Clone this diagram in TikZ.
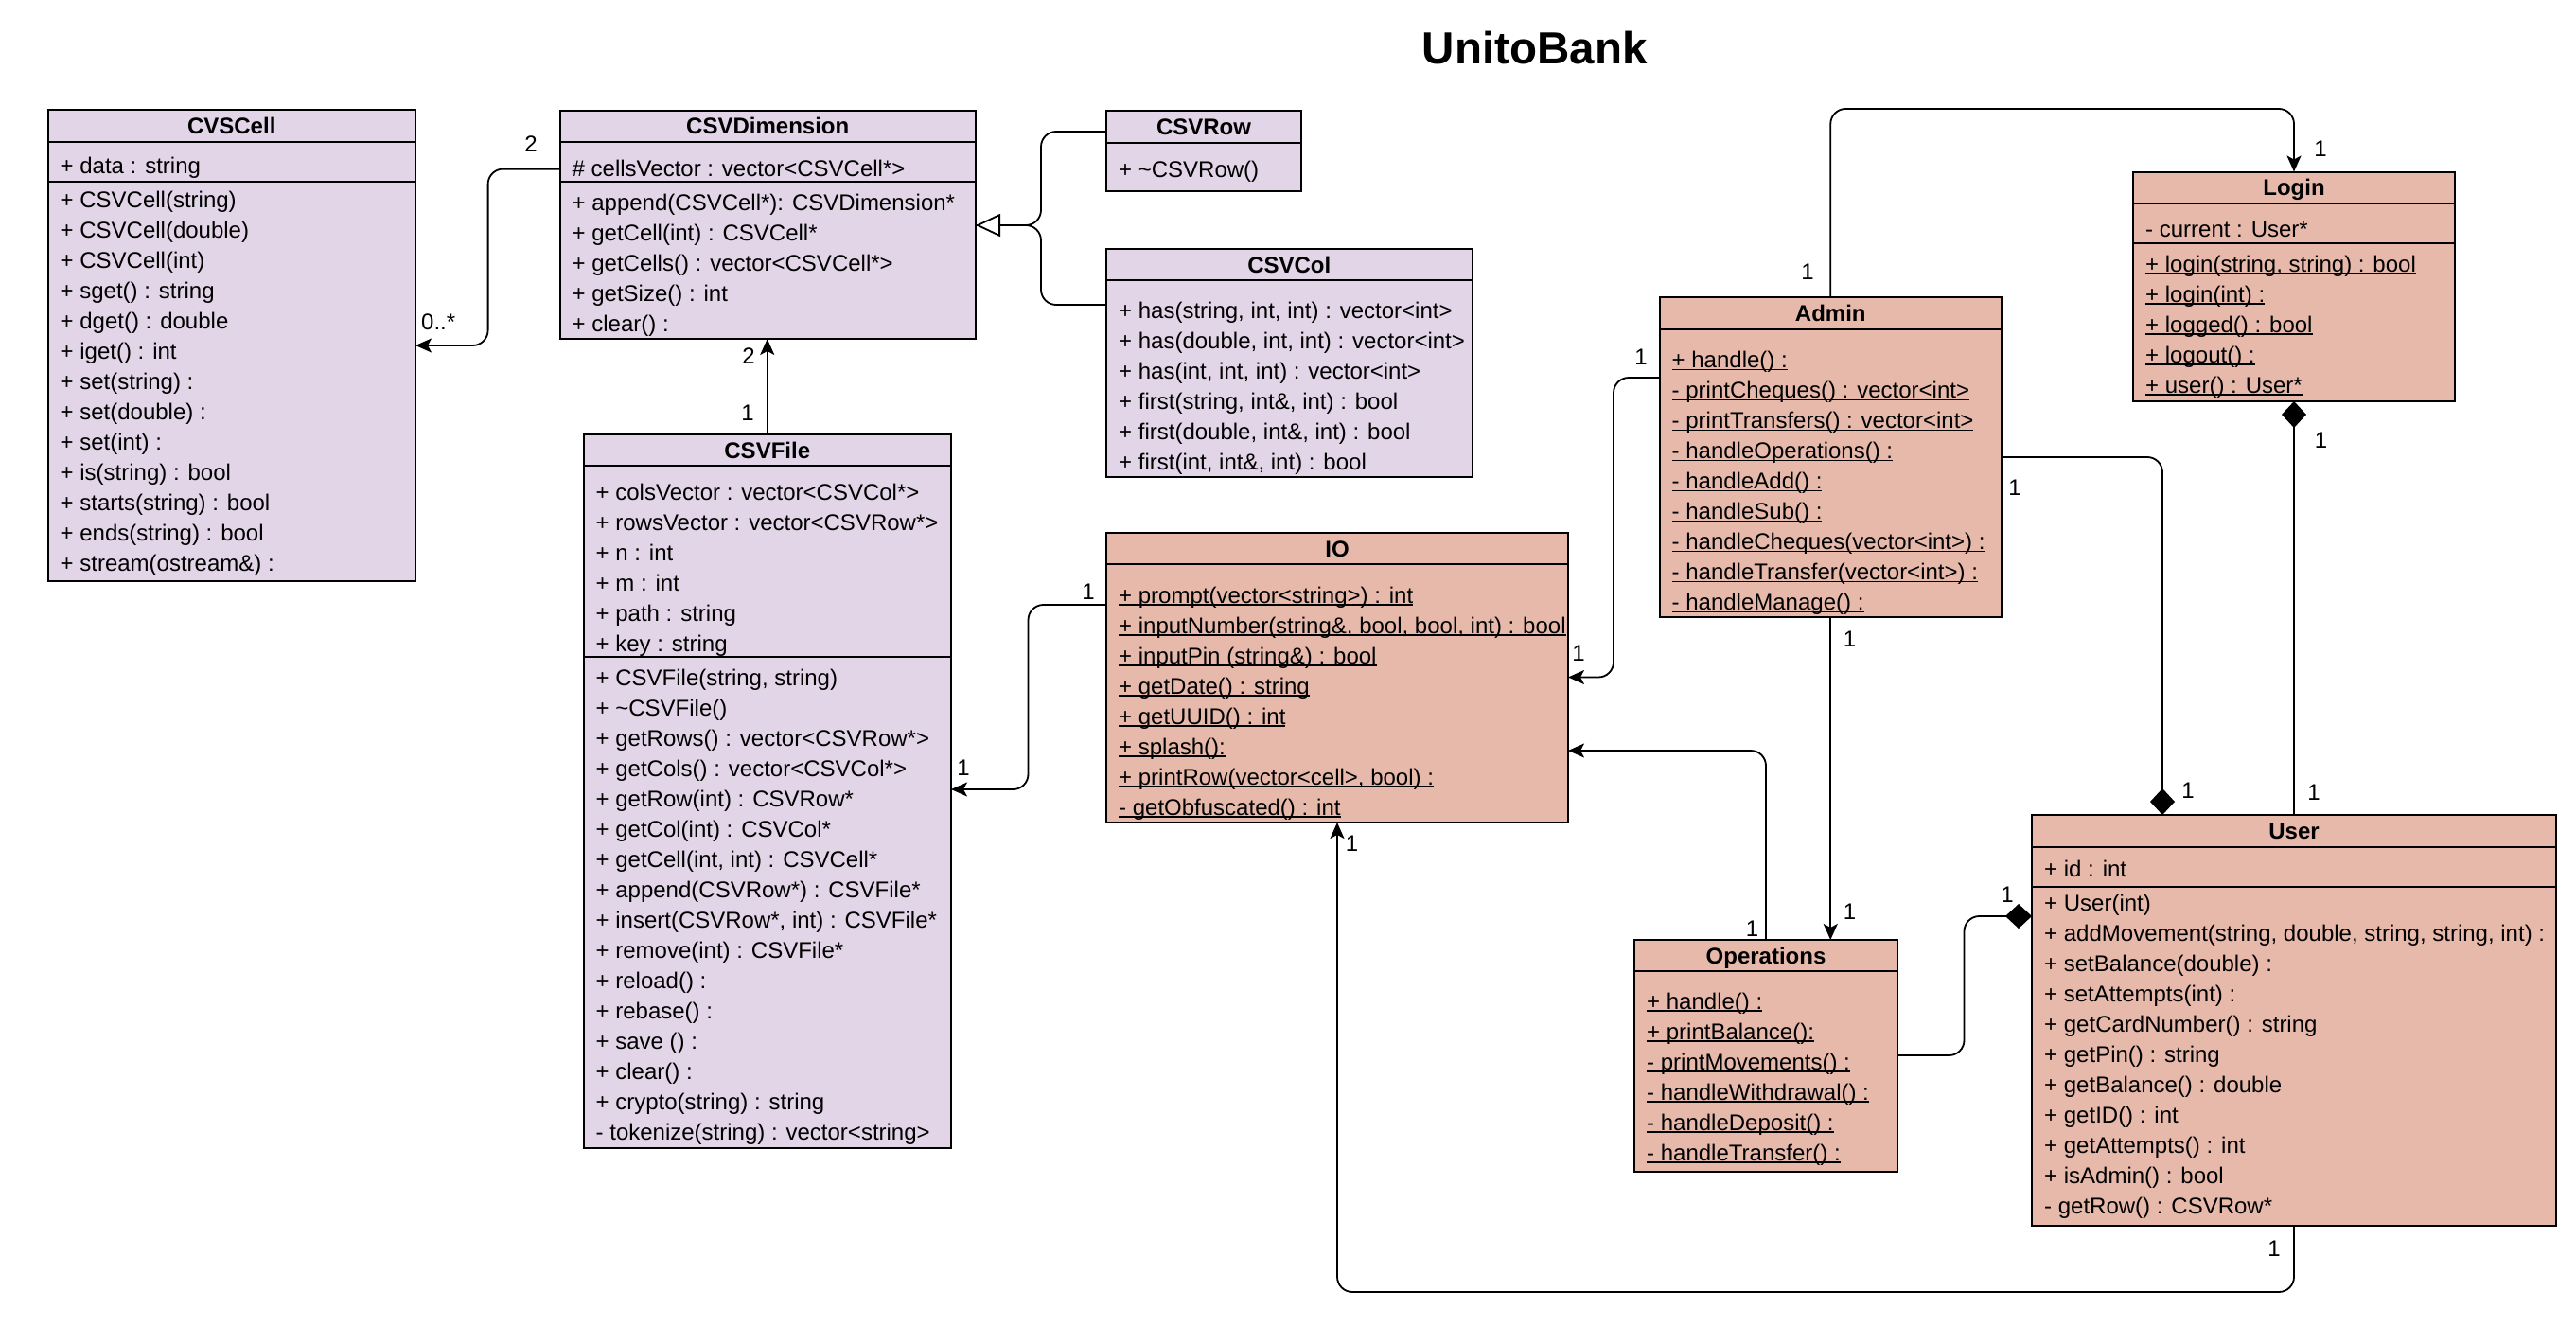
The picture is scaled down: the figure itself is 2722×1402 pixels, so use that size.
\documentclass[tikz,border=0pt]{standalone}
\usepackage{fontspec}
\setmainfont{Liberation Sans}
\usetikzlibrary{arrows.meta}
\definecolor{lav}{HTML}{E1D5E7}
\definecolor{sal}{HTML}{E6B9AB}
\newsavebox\ulbox
\newcommand\ulx[1]{\sbox\ulbox{#1}\rlap{\rule[-2.5pt]{\wd\ulbox}{1.5pt}}\usebox\ulbox}
\newcommand\rowsat[4]{\foreach \rowtext [count=\ri from 0] in {#4}{\node[rowtxt] (#1\ri) at (#2,{#3+32*\ri}) {\rowtext};}}
\newcommand\ulrowsat[4]{\foreach \rowtext [count=\ri from 0] in {#4}{\node[rowtxt] (#1\ri) at (#2,{#3+32*\ri}) {\ulx{\rowtext}};}}
\begin{document}
\begin{tikzpicture}[x=1pt,y=-1pt,
  cls/.style={draw, line width=2pt, anchor=north west, inner sep=0pt, outer sep=0pt},
  sepl/.style={line width=2pt},
  rowtxt/.style={anchor=base west, inner sep=0pt, font=\fontsize{24}{28}\selectfont},
  ttl/.style={anchor=base, inner sep=0pt, font=\fontsize{24}{28}\selectfont\bfseries},
  lbl/.style={anchor=center, inner sep=0pt, font=\fontsize{24}{28}\selectfont},
  conn/.style={draw, line width=1.8pt, rounded corners=16pt},
  assoc/.style={conn, -{Stealth[length=17pt,width=15pt,inset=4pt]}},
  gen/.style={conn, -{Triangle[length=26pt,width=24pt,fill=white,line width=1.8pt]}},
  comp/.style={conn, -{Diamond[length=28pt,width=26pt]}}]
\fill[white] (0,0) rectangle (2722,1402);
\useasboundingbox (0,0) rectangle (2722,1402);

\node[anchor=base, inner sep=0pt, font=\fontsize{47.5}{50}\selectfont\bfseries] (title) at (1621.7,67.3) {UnitoBank};

% ---------- CVSCell
\node[cls, fill=lav, minimum width=388.5pt, minimum height=498pt] (cell) at (50.5,116) {};
\draw[sepl] (50.5,150) -- (439,150);
\draw[sepl] (50.5,192) -- (439,192);
\node[ttl] (tcell) at (244.75,141.5) {CVSCell};
\rowsat{cella}{63.5}{183}{{+ data : string}}
\rowsat{cellm}{63.5}{219}{{+ CSVCell(string)},{+ CSVCell(double)},{+ CSVCell(int)},{+ sget() : string},{+ dget() : double},{+ iget() : int},{+ set(string) :},{+ set(double) :},{+ set(int) :},{+ is(string) : bool},{+ starts(string) : bool},{+ ends(string) : bool},{+ stream(ostream\&) :}}

% ---------- CSVDimension
\node[cls, fill=lav, minimum width=439.5pt, minimum height=241pt] (dim) at (591.5,117) {};
\draw[sepl] (591.5,150) -- (1031,150);
\draw[sepl] (591.5,192) -- (1031,192);
\node[ttl] (tdim) at (811.25,142) {CSVDimension};
\rowsat{dima}{604.5}{186.6}{{\# cellsVector : vector<CSVCell*>}}
\rowsat{dimm}{604.5}{222}{{+ append(CSVCell*): CSVDimension*},{+ getCell(int) : CSVCell*},{+ getCells() : vector<CSVCell*>},{+ getSize() : int},{+ clear() :}}

% ---------- CSVRow
\node[cls, fill=lav, minimum width=206pt, minimum height=85pt] (row) at (1169,117) {};
\draw[sepl] (1169,151) -- (1375,151);
\node[ttl] (trow) at (1272,142.5) {CSVRow};
\rowsat{rowm}{1182}{187.3}{{+ \textasciitilde CSVRow()}}

% ---------- CSVCol
\node[cls, fill=lav, minimum width=386.5pt, minimum height=241pt] (col) at (1169,263) {};
\draw[sepl] (1169,296) -- (1555.5,296);
\node[ttl] (tcol) at (1362.25,288) {CSVCol};
\rowsat{colm}{1182}{336.7}{{+ has(string, int, int) : vector<int>},{+ has(double, int, int) : vector<int>},{+ has(int, int, int) : vector<int>},{+ first(string, int\&, int) : bool},{+ first(double, int\&, int) : bool},{+ first(int, int\&, int) : bool}}

% ---------- CSVFile
\node[cls, fill=lav, minimum width=388.5pt, minimum height=754pt] (file) at (616.5,459) {};
\draw[sepl] (616.5,492) -- (1005,492);
\draw[sepl] (616.5,694) -- (1005,694);
\node[ttl] (tfile) at (810.75,484) {CSVFile};
\rowsat{filea}{629.5}{528}{{+ colsVector : vector<CSVCol*>},{+ rowsVector : vector<CSVRow*>},{+ n : int},{+ m : int},{+ path : string},{+ key : string}}
\rowsat{filem}{629.5}{724}{{+ CSVFile(string, string)},{+ \textasciitilde CSVFile()},{+ getRows() : vector<CSVRow*>},{+ getCols() : vector<CSVCol*>},{+ getRow(int) : CSVRow*},{+ getCol(int) : CSVCol*},{+ getCell(int, int) : CSVCell*},{+ append(CSVRow*) : CSVFile*},{+ insert(CSVRow*, int) : CSVFile*},{+ remove(int) : CSVFile*},{+ reload() :},{+ rebase() :},{+ save () :},{+ clear() :},{+ crypto(string) : string},{- tokenize(string) : vector<string>}}

% ---------- IO
\node[cls, fill=sal, minimum width=488pt, minimum height=306pt] (io) at (1169,563) {};
\draw[sepl] (1169,596) -- (1657,596);
\node[ttl] (tio) at (1413,588) {IO};
\ulrowsat{iom}{1182}{637}{{+ prompt(vector<string>) : int},{+ inputNumber(string\&, bool, bool, int) : bool},{+ inputPin (string\&) : bool},{+ getDate() : string},{+ getUUID() : int},{+ splash():},{+ printRow(vector<cell>, bool) :},{- getObfuscated() : int}}

% ---------- Admin
\node[cls, fill=sal, minimum width=361.5pt, minimum height=338pt] (admin) at (1753.5,314) {};
\draw[sepl] (1753.5,348) -- (2115,348);
\node[ttl] (tadmin) at (1934.25,339.5) {Admin};
\ulrowsat{adminm}{1766.5}{388.5}{{+ handle() :},{- printCheques() : vector<int>},{- printTransfers() : vector<int>},{- handleOperations() :},{- handleAdd() :},{- handleSub() :},{- handleCheques(vector<int>) :},{- handleTransfer(vector<int>) :},{- handleManage() :}}

% ---------- Login
\node[cls, fill=sal, minimum width=340pt, minimum height=242.5pt] (login) at (2254,181.5) {};
\draw[sepl] (2254,215) -- (2594,215);
\draw[sepl] (2254,257) -- (2594,257);
\node[ttl] (tlogin) at (2424,206.75) {Login};
\rowsat{logina}{2267}{250.6}{{- current : User*}}
\ulrowsat{loginm}{2267}{287}{{+ login(string, string) : bool},{+ login(int) :},{+ logged() : bool},{+ logout() :},{+ user() : User*}}

% ---------- Operations
\node[cls, fill=sal, minimum width=278pt, minimum height=245pt] (ops) at (1727,993) {};
\draw[sepl] (1727,1026) -- (2005,1026);
\node[ttl] (tops) at (1866,1018) {Operations};
\ulrowsat{opsm}{1740}{1066}{{+ handle() :},{+ printBalance():},{- printMovements() :},{- handleWithdrawal() :},{- handleDeposit() :},{- handleTransfer() :}}

% ---------- User
\node[cls, fill=sal, minimum width=554pt, minimum height=434pt] (user) at (2147,861) {};
\draw[sepl] (2147,894.5) -- (2701,894.5);
\draw[sepl] (2147,937) -- (2701,937);
\node[ttl] (tuser) at (2424,886.25) {User};
\rowsat{usera}{2160}{926.4}{{+ id : int}}
\rowsat{userm}{2160}{962}{{+ User(int)},{+ addMovement(string, double, string, string, int) :},{+ setBalance(double) :},{+ setAttempts(int) :},{+ getCardNumber() : string},{+ getPin() : string},{+ getBalance() : double},{+ getID() : int},{+ getAttempts() : int},{+ isAdmin() : bool},{- getRow() : CSVRow*}}

% ---------- connectors
\draw[assoc] (dim.west |- 0,178.6) -- (515.6,178.6) -- (515.6,365) -- (cell.east |- 0,365);
\node[lbl] (l1) at (561,152) {2};
\node[lbl, anchor=west] (l2) at (445,340) {0..*};

\draw[assoc] (file.north) -- (file.north |- dim.south);
\node[lbl] (l3) at (791,376.5) {2};
\node[lbl] (l4) at (790,436.5) {1};

\draw[conn] (row.west |- 0,139) -- (1100,139) -- (1100,238) -- (dim.east |- 0,238);
\draw[gen] (col.west |- 0,322) -- (1100,322) -- (1100,238) -- (dim.east |- 0,238);

\draw[assoc] (io.west |- 0,639) -- (1086.5,639) -- (1086.5,834) -- (file.east |- 0,834);
\node[lbl] (l5) at (1150,625) {1};
\node[lbl] (l6) at (1018,811) {1};

\draw[assoc] (admin.west |- 0,399) -- (1705,399) -- (1705,715.5) -- (io.east |- 0,715.5);
\node[lbl] (l7) at (1734,377.5) {1};
\node[lbl] (l8) at (1668,690) {1};

\draw[assoc] (ops.north) -- (1866,793) -- (io.east |- 0,793);
\node[lbl] (l9) at (1851.5,981) {1};

\draw[assoc] (admin.south) -- (admin.south |- ops.north);
\node[lbl] (l10) at (1954.5,675) {1};
\node[lbl] (l11) at (1954.5,963.5) {1};

\draw[assoc] (admin.north) -- (1934.25,115) -- (2424,115) -- (login.north);
\node[lbl] (l12) at (1910,287.5) {1};
\node[lbl] (l13) at (2452,157.5) {1};

\draw[comp] (admin.east |- 0,483) -- (2285,483) -- (user.north -| 2285,0);
\node[lbl] (l14) at (2129,515.5) {1};
\node[lbl] (l15) at (2312,835) {1};

\draw[comp] (user.north) -- (login.south);
\node[lbl] (l16) at (2452.5,465.5) {1};
\node[lbl] (l17) at (2445,837) {1};

\draw[comp] (ops.east |- 0,1115) -- (2075.5,1115) -- (2075.5,968) -- (user.west |- 0,968);
\node[lbl] (l18) at (2121,945.5) {1};

\draw[assoc] (user.south) -- (2424,1365) -- (1413,1365) -- (io.south);
\node[lbl] (l19) at (2403,1319) {1};
\node[lbl] (l20) at (1428.5,891.5) {1};
\end{tikzpicture}
\end{document}
